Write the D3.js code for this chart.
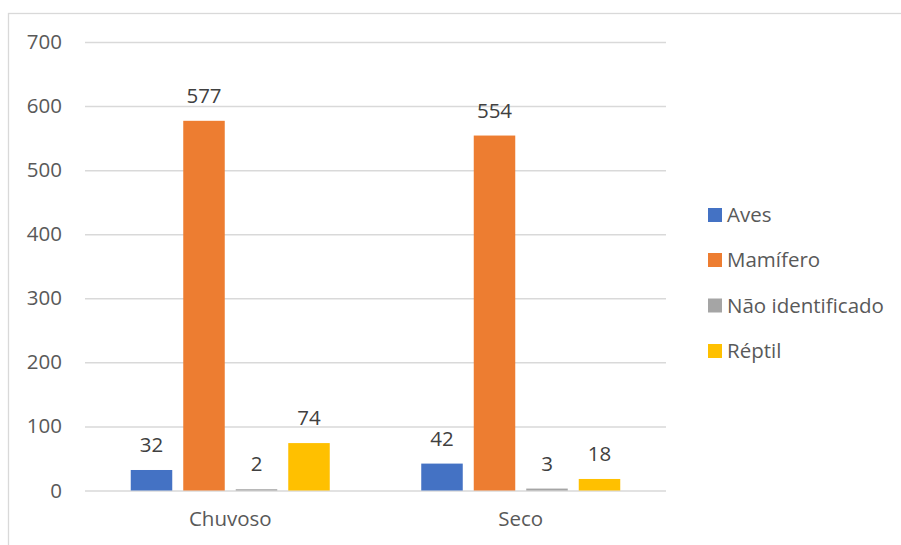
<!DOCTYPE html>
<html><head><meta charset="utf-8">
<script src="https://cdn.jsdelivr.net/npm/d3@7"></script>
<style>body{margin:0;background:#fff;}svg{display:block;}</style>
</head><body>
<script>
const categories = ["Chuvoso", "Seco"];
const seriesNames = ["Aves", "Mamífero", "Não identificado", "Réptil"];
const aves = [32, 42];
const mamifero = [577, 554];
const naoIdentificado = [2, 3];
const reptil = [74, 18];
const yTicks = [0, 100, 200, 300, 400, 500, 600, 700];
const colors = ["#4472C4", "#ED7D31", "#A5A5A5", "#FFC000"];

const seriesValues = [aves, mamifero, naoIdentificado, reptil];
const W = 901, H = 545;
const font = "'Open Sans', sans-serif";
const fs = "20.5px";
const svg = d3.select("body").append("svg").attr("width", W).attr("height", H);

// outer chart border (partially visible)
svg.append("rect").attr("x", 8.5).attr("y", 13.5).attr("width", 1000).attr("height", 1000)
  .attr("fill", "none").attr("stroke", "#d9d9d9").attr("stroke-width", 1.3);

const plot = {left: 85, right: 666, top: 42, bottom: 490.5};
const x0 = d3.scaleBand().domain(categories).range([plot.left, plot.right]).paddingInner(0).paddingOuter(0);
const y = d3.scaleLinear().domain([0, 700]).range([plot.bottom, plot.top]);
const barW = 41.5, step = 52.5;
const x1 = d3.scaleBand().domain(seriesNames).range([-step * 2, step * 2]).padding(0);

// gridlines
const yAxis = d3.axisLeft(y).tickValues(yTicks).tickSize(-(plot.right - plot.left)).tickPadding(23);
const gy = svg.append("g").attr("transform", `translate(${plot.left},0)`).call(yAxis);
gy.select(".domain").remove();
gy.selectAll(".tick line").attr("stroke", "#d9d9d9").attr("stroke-width", 1.5);
gy.selectAll(".tick text").attr("fill", "#595959").style("font-family", font).style("font-size", fs);

// x axis labels
const xAxis = d3.axisBottom(x0).tickSize(0).tickPadding(21);
const gx = svg.append("g").attr("transform", `translate(0,${plot.bottom})`).call(xAxis);
gx.select(".domain").remove();
gx.selectAll(".tick text").attr("fill", "#595959").style("font-family", font).style("font-size", fs);

// bars
const groups = svg.append("g").selectAll("g").data(categories).join("g")
  .attr("transform", c => `translate(${x0(c) + x0.bandwidth() / 2},0)`);
groups.each(function(c, ci) {
  const g = d3.select(this);
  seriesNames.forEach((s, si) => {
    const v = seriesValues[si][ci];
    const cx = x1(s) + step / 2;
    g.append("rect").attr("x", cx - barW / 2).attr("width", barW)
      .attr("y", y(v)).attr("height", y(0) - y(v)).attr("fill", colors[si]);
    g.append("text").attr("x", cx).attr("y", y(v) - 18).attr("text-anchor", "middle")
      .attr("fill", "#404040").style("font-family", font).style("font-size", fs).text(v);
  });
});

// legend
const legend = svg.append("g");
const legendY = [215, 260, 305.5, 351];
seriesNames.forEach((s, i) => {
  legend.append("rect").attr("x", 708).attr("y", legendY[i] - 7).attr("width", 14).attr("height", 14).attr("fill", colors[i]);
  legend.append("text").attr("x", 727).attr("y", legendY[i]).attr("dy", "0.35em")
    .attr("fill", "#595959").style("font-family", font).style("font-size", fs).text(s);
});
</script>
</body></html>
